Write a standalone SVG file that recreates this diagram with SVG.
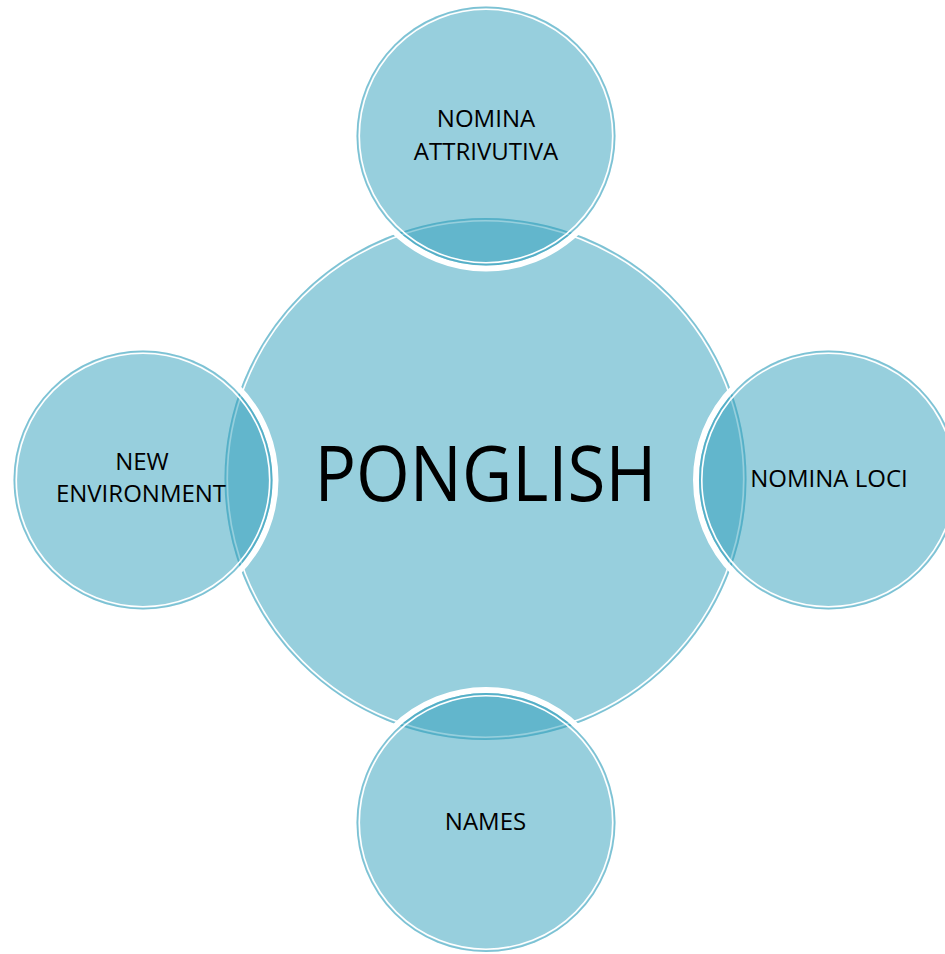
<svg xmlns="http://www.w3.org/2000/svg" width="945" height="954" viewBox="0 0 945 954">
  <defs>
    <style>
      .halo { fill: none; stroke: #ffffff; stroke-width: 6; }
      .disc { fill: #2b9dba; fill-opacity: 0.49; }
      .rim { fill: none; stroke: #2b9dba; stroke-opacity: 0.25; stroke-width: 1.5; }
      .inner { fill: none; stroke: #ffffff; stroke-width: 1.6; }
      .label { font-family: "Open Sans", "Noto Sans", "DejaVu Sans", sans-serif; font-size: 24px; fill: #000000; text-anchor: middle; }
      .title { font-family: "Open Sans", "Noto Sans", "DejaVu Sans", sans-serif; font-size: 77px; fill: #000000; text-anchor: middle; }
    </style>
  </defs>
  <rect width="945" height="954" fill="#ffffff"/>

  <g id="center-ponglish">
    <circle class="disc" cx="485.5" cy="479" r="261"/>
    <circle class="rim" cx="485.5" cy="479" r="260.3"/>
    <circle class="inner" cx="485.5" cy="479" r="258.2"/>
    <text class="title" x="485.5" y="501" textLength="342" lengthAdjust="spacingAndGlyphs">PONGLISH</text>
  </g>

  <g id="node-top">
    <circle class="halo" cx="486" cy="136" r="132.5"/>
    <circle class="disc" cx="486" cy="136" r="129.5"/>
    <circle class="rim" cx="486" cy="136" r="128.8"/>
    <circle class="inner" cx="486" cy="136" r="126.7"/>
    <text class="label" x="486" y="127">NOMINA</text>
    <text class="label" x="486" y="159.5">ATTRIVUTIVA</text>
  </g>

  <g id="node-left">
    <circle class="halo" cx="143" cy="480" r="132.5"/>
    <circle class="disc" cx="143" cy="480" r="129.5"/>
    <circle class="rim" cx="143" cy="480" r="128.8"/>
    <circle class="inner" cx="143" cy="480" r="126.7"/>
    <text class="label" x="142" y="470">NEW</text>
    <text class="label" x="141" y="502">ENVIRONMENT</text>
  </g>

  <g id="node-right">
    <circle class="halo" cx="828.5" cy="480" r="132.5"/>
    <circle class="disc" cx="828.5" cy="480" r="129.5"/>
    <circle class="rim" cx="828.5" cy="480" r="128.8"/>
    <circle class="inner" cx="828.5" cy="480" r="126.7"/>
    <text class="label" x="829" y="487">NOMINA LOCI</text>
  </g>

  <g id="node-bottom">
    <circle class="halo" cx="486" cy="822.5" r="132.5"/>
    <circle class="disc" cx="486" cy="822.5" r="129.5"/>
    <circle class="rim" cx="486" cy="822.5" r="128.8"/>
    <circle class="inner" cx="486" cy="822.5" r="126.7"/>
    <text class="label" x="485.5" y="830">NAMES</text>
  </g>

  <g id="connectors"/>
</svg>
